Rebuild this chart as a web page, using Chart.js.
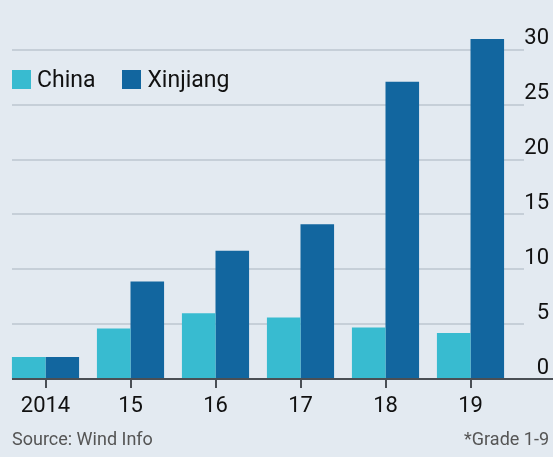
<!DOCTYPE html>
<html>
<head>
<meta charset="utf-8">
<script src="https://cdn.jsdelivr.net/npm/chart.js@4"></script>
<style>
  html, body { margin: 0; padding: 0; background: #e3eaf1; }
  #wrap { position: relative; width: 553px; height: 457px; overflow: hidden; font-family: Roboto, sans-serif; }
  #chart { position: absolute; left: 0; top: 0; }
  .legend { position: absolute; top: 66px; left: 12px; display: flex; align-items: center; font-size: 23px; color: #111; }
  .legend span.sw { display: inline-block; width: 19px; height: 19px; margin-right: 6px; }
  .legend .item { display: flex; align-items: center; margin-right: 27px; }
  .note { position: absolute; top: 428px; font-size: 18px; color: #555; }
</style>
</head>
<body>
<div id="wrap">
  <canvas id="chart" width="553" height="457"></canvas>
  <div class="legend">
    <div class="item"><span class="sw" style="background:#38bbd0"></span>China</div>
    <div class="item"><span class="sw" style="background:#12669f"></span>Xinjiang</div>
  </div>
  <div class="note" style="left:12px">Source: Wind Info</div>
  <div class="note" style="right:4px">*Grade 1-9</div>
</div>
<script>
  /* ---------- DATA ---------- */
  const years = ["2014", "15", "16", "17", "18", "19"];
  const chinaValues = [2.0, 4.6, 6.0, 5.6, 4.7, 4.2];
  const xinjiangValues = [2.0, 8.9, 11.7, 14.1, 27.1, 31.0];
  const yTicks = [0, 5, 10, 15, 20, 25, 30];

  /* ---------- GRID + BASELINE ---------- */
  const gridPlugin = {
    id: "grid",
    beforeDatasetsDraw(chart) {
      const { ctx, scales: { y } } = chart;
      ctx.save();
      ctx.strokeStyle = "#c6cfd8";
      ctx.lineWidth = 2;
      yTicks.forEach(v => {
        if (v === 0) return;
        const py = Math.round(y.getPixelForValue(v));
        ctx.beginPath();
        ctx.moveTo(12, py);
        ctx.lineTo(524, py);
        ctx.stroke();
      });
      ctx.restore();
    },
    afterDatasetsDraw(chart) {
      const { ctx, scales: { y } } = chart;
      const py = Math.round(y.getPixelForValue(0));
      ctx.save();
      ctx.strokeStyle = "#4a4f55";
      ctx.lineWidth = 2;
      ctx.beginPath();
      ctx.moveTo(12, py);
      ctx.lineTo(553, py);
      ctx.stroke();
      ctx.restore();
    }
  };

  new Chart(document.getElementById("chart"), {
    type: "bar",
    data: {
      labels: years,
      datasets: [
        { label: "China", data: chinaValues, backgroundColor: "#38bbd0" },
        { label: "Xinjiang", data: xinjiangValues, backgroundColor: "#12669f" }
      ]
    },
    options: {
      responsive: false,
      animation: false,
      layout: { padding: { left: 3, top: 28, right: 4, bottom: 0 } },
      datasets: { bar: { barPercentage: 1, categoryPercentage: 0.79 } },
      plugins: { legend: { display: false }, tooltip: { enabled: false } },
      scales: {
        x: {
          grid: { display: true, offset: false, drawOnChartArea: false, color: "#4a4f55", lineWidth: 2, tickLength: 9 },
          border: { display: false },
          ticks: { color: "#111", font: { family: "Roboto", size: 22 }, padding: 5 },
          afterFit(scale) { scale.height = 78; }
        },
        y: {
          position: "right",
          min: 0,
          max: 32,
          grid: { display: false },
          border: { display: false },
          ticks: {
            stepSize: 5,
            includeBounds: false,
            color: "#111",
            font: { family: "Roboto", size: 22 },
            crossAlign: "far",
            labelOffset: -11,
            padding: 4
          },
          afterFit(scale) { scale.width = 36; }
        }
      }
    },
    plugins: [gridPlugin]
  });
</script>
</body>
</html>
